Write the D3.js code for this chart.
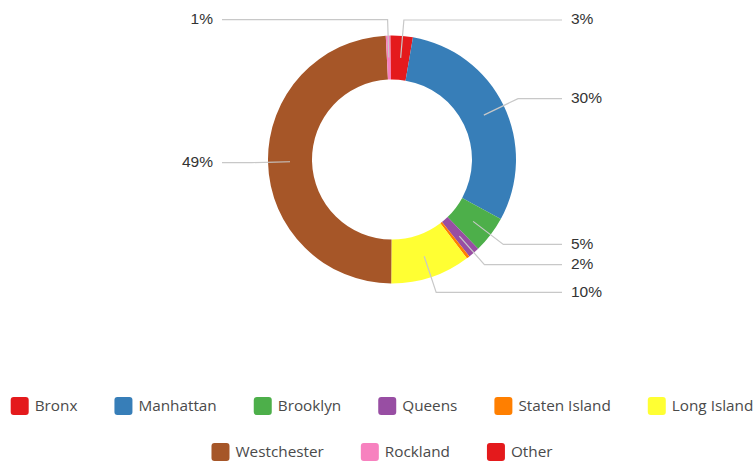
<!DOCTYPE html>
<html>
<head>
<meta charset="utf-8">
<script src="https://cdn.jsdelivr.net/npm/d3@7"></script>
<style>
  html, body { margin: 0; padding: 0; background: #fff; }
  svg { display: block; }
</style>
</head>
<body>
<svg id="chart" width="756" height="462"></svg>
<script>
const categories = ["Bronx", "Manhattan", "Brooklyn", "Queens", "Staten Island", "Long Island", "Westchester", "Rockland", "Other"];
const values = [2.7, 30.2, 4.8, 1.5, 0.4, 10.4, 49.0, 0.6, 0.2];
const colors = ["#e41a1c", "#377eb8", "#4daf4a", "#984ea3", "#ff7f00", "#ffff33", "#a65628", "#f781bf", "#e41a1c"];

const W = 756, H = 462;
const cx = 392, cy = 159.5;
const outerR = 124, innerR = 80;
const lineStartR = 102, elbowR = 140;
const lineEndOffset = 170, textGap = 9;

const svg = d3.select("#chart");
const data = categories.map((c, i) => ({ name: c, value: values[i], color: colors[i] }));
const total = d3.sum(values);

const pie = d3.pie().value(d => d.value).sort(null);
const arcs = pie(data);
const arc = d3.arc().innerRadius(innerR).outerRadius(outerR);

const g = svg.append("g").attr("transform", `translate(${cx},${cy})`);

g.selectAll("path.slice")
  .data(arcs)
  .join("path")
  .attr("class", "slice")
  .attr("d", arc)
  .attr("fill", d => d.data.color);

const pct = d => Math.round(d.data.value / total * 100);
const labeled = arcs.filter(d => pct(d) >= 1);

const pt = (a, r) => [Math.sin(a) * r, -Math.cos(a) * r];

labeled.forEach(d => {
  const mid = (d.startAngle + d.endAngle) / 2;
  const p0 = pt(mid, lineStartR);
  const p1 = pt(mid, elbowR);
  const right = p1[0] >= 0;
  const xEnd = right ? lineEndOffset : -lineEndOffset;
  g.append("polyline")
    .attr("points", [p0, p1, [xEnd, p1[1]]].map(p => p.join(",")).join(" "))
    .attr("fill", "none")
    .attr("stroke", "#c8c8c8")
    .attr("stroke-width", 1.2);
  g.append("text")
    .attr("x", right ? xEnd + textGap : xEnd - textGap)
    .attr("y", p1[1] - 1)
    .attr("dy", "0.35em")
    .attr("text-anchor", right ? "start" : "end")
    .attr("font-family", "'Liberation Sans', Arial, sans-serif")
    .attr("font-size", 15.5)
    .attr("fill", "#333")
    .text(pct(d) + "%");
});

// Legend
const legend = svg.append("g");
const sw = 18, swGap = 6, itemGap = 37, maxRowW = 748, legendCx = 382;
const rowYs = [406, 452];
const items = data.map(d => {
  const it = legend.append("g");
  it.append("rect").attr("width", sw).attr("height", sw).attr("rx", 3).attr("ry", 3)
    .attr("y", -sw / 2).attr("fill", d.color);
  const t = it.append("text").attr("x", sw + swGap).attr("dy", "0.35em")
    .attr("font-family", "'Open Sans', sans-serif").attr("font-size", 15.3)
    .attr("fill", "#4a4a4a").text(d.name);
  return { node: it, w: sw + swGap + t.node().getComputedTextLength() };
});
const rows = [[]];
let cur = 0;
items.forEach(it => {
  const add = (rows[rows.length - 1].length ? itemGap : 0) + it.w;
  if (cur + add > maxRowW && rows[rows.length - 1].length) {
    rows.push([it]); cur = it.w;
  } else {
    rows[rows.length - 1].push(it); cur += add;
  }
});
rows.forEach((row, ri) => {
  const rw = d3.sum(row, d => d.w) + itemGap * (row.length - 1);
  let x = legendCx - rw / 2;
  row.forEach(it => {
    it.node.attr("transform", `translate(${x},${rowYs[ri]})`);
    x += it.w + itemGap;
  });
});
</script>
</body>
</html>
